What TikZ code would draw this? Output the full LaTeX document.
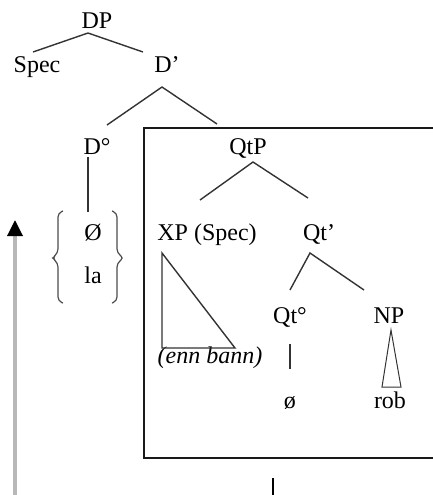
\documentclass[tikz,border=0pt]{standalone}
\usepackage{fontspec}
\setmainfont{Liberation Serif}
\usetikzlibrary{arrows.meta}

\begin{document}
\begin{tikzpicture}[x=0.5pt,y=-0.5pt,
    lbl/.style={inner sep=0pt,anchor=base,font=\fontsize{12}{14}\selectfont},
    branch/.style={line width=0.7pt,draw=black!80},
    brace/.style={line width=0.6pt,draw=black!70,rounded corners=2pt}]
  \useasboundingbox (0,0) rectangle (433,495);

  % Labels
  \node[lbl] (DP) at (97,28) {DP};
  \node[lbl] (Spec) at (37,72) {Spec};
  \node[lbl] (Dbar) at (167,72) {D'};
  \node[lbl] (Dzero) at (97,154) {D°};
  \node[lbl] (oslash) at (93,240) {Ø};
  \node[lbl] (la) at (93,283) {la};
  \node[lbl] (QtP) at (248,154) {QtP};
  \node[lbl] (XP) at (207,240) {XP (Spec)};
  \node[lbl] (Qtbar) at (319,240) {Qt'};
  \node[lbl] (Qtzero) at (290,323) {Qt°};
  \node[lbl] (NP) at (389,323) {NP};
  \node[lbl] (enn) at (210,363) {\itshape (enn bann)};
  \node[lbl] (null) at (290,408) {ø};
  \node[lbl] (rob) at (390,408) {rob};

  % Branch points
  \coordinate (DP-top) at (88,33);
  \coordinate (DP-l) at (33,52);
  \coordinate (DP-r) at (143,52);
  \coordinate (Dbar-top) at (162,87);
  \coordinate (Dbar-l) at (107,125);
  \coordinate (Dbar-r) at (217,124);
  \coordinate (QtP-top) at (253,162);
  \coordinate (QtP-l) at (200,200);
  \coordinate (QtP-r) at (308,198);
  \coordinate (Qtbar-top) at (310,253);
  \coordinate (Qtbar-l) at (290,290);
  \coordinate (Qtbar-r) at (364,290);

  % Branches
  \draw[branch] (DP-l) -- (DP-top) -- (DP-r);
  \draw[branch] (Dbar-l) -- (Dbar-top) -- (Dbar-r);
  \draw[branch] (QtP-l) -- (QtP-top) -- (QtP-r);
  \draw[branch] (Qtbar-l) -- (Qtbar-top) -- (Qtbar-r);
  \draw[branch] (88,157) -- (88,212);
  \draw[branch] (290,344) -- (290,369);

  % Triangles
  \draw[branch] (162,253) -- (162,348) -- (235,348) -- cycle;
  \draw[branch,line width=0.5pt] (391,330) -- (382,387) -- (401,387) -- cycle;

  % Braces round the two D-heads
  \draw[brace] (63,211) -- (58,213) -- (58,253) -- (52,258) -- (58,263) -- (58,301) -- (63,303);
  \draw[brace] (112,211) -- (117,213) -- (117,253) -- (124,258) -- (117,263) -- (117,301) -- (112,303);

  % QtP box
  \draw[line width=1pt,draw=black!90] (436,128) -- (144,128) -- (144,458) -- (436,458);

  % Movement arrow and lower stem
  \draw[line width=1.7pt,draw=black!28,-{Triangle[length=8pt,width=7.5pt,black]}] (15,497) -- (15,220);
  \draw[line width=0.6pt] (273,478) -- (273,497);
\end{tikzpicture}
\end{document}
